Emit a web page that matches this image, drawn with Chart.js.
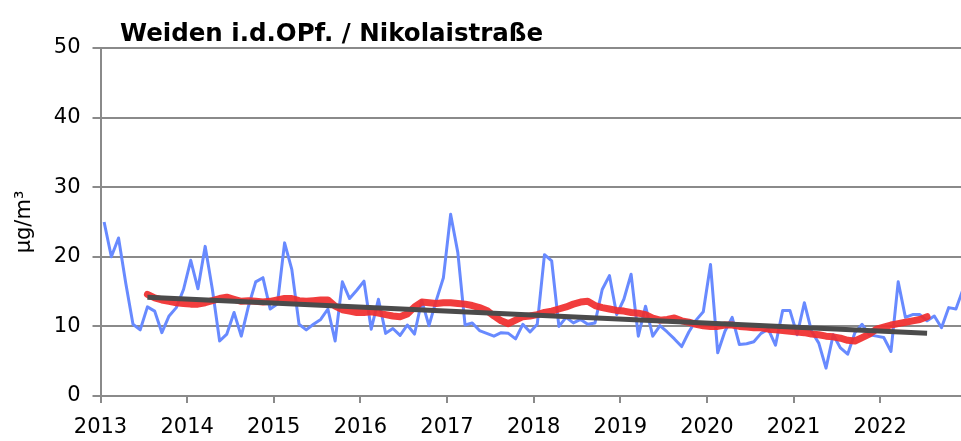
<!DOCTYPE html>
<html><head><meta charset="utf-8">
<script src="https://cdn.jsdelivr.net/npm/chart.js@4.4.1/dist/chart.umd.min.js"></script>
<style>html,body{margin:0;padding:0;background:#fff;}#wrap{width:961px;height:441px;}</style>
</head><body><div id="wrap"><canvas id="c" width="961" height="441"></canvas></div>
<script>
const chartTitle = 'Weiden i.d.OPf. / Nikolaistraße';
const yAxisTitle = 'µg/m³';
const yearLabels = ['2013','2014','2015','2016','2017','2018','2019','2020','2021','2022'];
const yTickValues = [0, 10, 20, 30, 40, 50];

// Monthly means Jan 2013 .. Dec 2022 (µg/m³)
const monthly2013 = [25.0, 20.0, 22.7, 16.2, 10.3, 9.5, 12.8, 12.2, 9.1, 11.5, 12.7, 15.3];
const monthly2014 = [19.5, 15.4, 21.5, 15.3, 7.9, 8.9, 12.0, 8.6, 12.9, 16.4, 17.0, 12.5];
const monthly2015 = [13.2, 22.0, 18.2, 10.3, 9.5, 10.3, 11.0, 12.5, 7.9, 16.4, 14.0, 15.2];
const monthly2016 = [16.5, 9.6, 13.9, 9.0, 9.7, 8.7, 10.2, 8.9, 13.7, 10.1, 13.7, 17.0];
const monthly2017 = [26.1, 20.6, 10.2, 10.5, 9.4, 9.0, 8.6, 9.1, 9.0, 8.2, 10.3, 9.2];
const monthly2018 = [10.3, 20.3, 19.4, 10.0, 11.3, 10.5, 11.0, 10.3, 10.5, 15.3, 17.3, 11.7];
const monthly2019 = [13.9, 17.5, 8.6, 12.9, 8.6, 10.1, 9.2, 8.2, 7.1, 9.2, 10.9, 12.1];
const monthly2020 = [18.9, 6.2, 9.3, 11.3, 7.4, 7.5, 7.8, 9.0, 9.6, 7.3, 12.3, 12.3];
const monthly2021 = [8.8, 13.4, 9.3, 7.6, 4.0, 8.8, 6.9, 6.0, 9.1, 10.3, 8.8, 8.6];
const monthly2022 = [8.4, 6.4, 16.4, 11.3, 11.7, 11.7, 10.8, 11.5, 9.8, 12.7, 12.5, 15.4];

// 12-month moving average, Jul 2013 .. Jul 2022
const movingAvgStartMonth = 6;
const movingAvg = [
  14.6, 14.1, 13.8, 13.6, 13.4, 13.3,
  13.2, 13.2, 13.4, 13.7, 14.0, 14.2, 13.9, 13.6, 13.7, 13.6, 13.5, 13.6,
  13.8, 14.0, 14.0, 13.7, 13.6, 13.7, 13.8, 13.8, 12.9, 12.4, 12.2, 12.0,
  12.0, 12.1, 11.9, 11.7, 11.5, 11.4, 11.8, 12.8, 13.5, 13.4, 13.3, 13.4,
  13.4, 13.3, 13.2, 13.0, 12.7, 12.3, 11.5, 10.8, 10.4, 10.9, 11.4, 11.5,
  11.7, 12.0, 12.2, 12.5, 12.8, 13.2, 13.5, 13.6, 13.0, 12.7, 12.5, 12.3,
  12.2, 12.0, 11.9, 11.7, 11.2, 10.9, 11.0, 11.2, 10.8, 10.6, 10.3, 10.1,
  10.0, 10.0, 10.2, 10.2, 10.0, 9.9, 9.8, 9.8, 9.6, 9.5, 9.4, 9.3,
  9.2, 9.1, 8.9, 8.8, 8.6, 8.5, 8.3, 8.0, 7.9, 8.4, 8.9, 9.6,
  9.9, 10.2, 10.4, 10.6, 10.8, 11.0, 11.4
];

// Linear trend: start / end months and values
const trendMonths = [6, 114];
const trendValues = [14.2, 9.0];

const monthly = [].concat(monthly2013, monthly2014, monthly2015, monthly2016, monthly2017,
  monthly2018, monthly2019, monthly2020, monthly2021, monthly2022);

const FONT = '"DejaVu Sans", sans-serif';
const GRID = 'rgb(138,138,138)';

const titlePlugin = {
  id: 'topTitle',
  afterDraw(chart) {
    const ctx = chart.ctx;
    ctx.save();
    ctx.font = 'bold 24.5px ' + FONT;
    ctx.fillStyle = '#000';
    ctx.textAlign = 'left';
    ctx.textBaseline = 'alphabetic';
    ctx.fillText(chartTitle, 120, 41);
    ctx.restore();
  }
};

new Chart(document.getElementById('c'), {
  type: 'line',
  data: {
    datasets: [
      {
        label: 'Trend',
        data: trendMonths.map((m, k) => ({ x: m + 0.5, y: trendValues[k] })),
        borderColor: '#4b4b4b',
        borderWidth: 5,
        pointRadius: 0,
        tension: 0,
        borderCapStyle: 'butt'
      },
      {
        label: 'Gleitender Mittelwert',
        data: movingAvg.map((v, k) => ({ x: movingAvgStartMonth + k + 0.5, y: v })),
        borderColor: 'rgba(240,45,45,0.92)',
        borderWidth: 7,
        pointRadius: 0,
        tension: 0,
        borderCapStyle: 'round',
        borderJoinStyle: 'round'
      },
      {
        label: 'Monatsmittel',
        data: monthly.map((v, i) => ({ x: i + 0.5, y: v })),
        borderColor: 'rgb(104,138,255)',
        borderWidth: 3,
        pointRadius: 0,
        tension: 0,
        borderJoinStyle: 'round'
      }
    ]
  },
  options: {
    responsive: false,
    devicePixelRatio: 1,
    animation: false,
    layout: { padding: { top: 48, right: 0, bottom: 0, left: 0 } },
    plugins: { legend: { display: false }, tooltip: { enabled: false }, title: { display: false } },
    scales: {
      x: {
        type: 'linear',
        min: 0,
        max: 119.2,
        afterBuildTicks: (s) => { s.ticks = yearLabels.map((_, k) => ({ value: k * 12 })); },
        afterFit: (s) => { s.height = 45; },
        ticks: {
          autoSkip: false,
          maxRotation: 0,
          padding: 12,
          color: '#000',
          font: { family: FONT, size: 21 },
          callback: (v) => yearLabels[Math.round(v / 12)]
        },
        grid: { drawOnChartArea: false, drawTicks: true, tickLength: 7, color: GRID, lineWidth: 2 },
        border: { display: true, color: GRID, width: 2 }
      },
      y: {
        min: 0,
        max: 50,
        afterBuildTicks: (s) => { s.ticks = yTickValues.map(v => ({ value: v })); },
        afterFit: (s) => { s.width = 100.5; },
        ticks: {
          padding: 12,
          color: '#000',
          font: { family: FONT, size: 21 }
        },
        grid: { drawTicks: true, tickLength: 8, color: GRID, lineWidth: 2 },
        border: { display: true, color: GRID, width: 2 },
        title: {
          display: true,
          text: yAxisTitle,
          color: '#000',
          font: { family: FONT, size: 21 },
          padding: { top: 12, bottom: 0 }
        }
      }
    }
  },
  plugins: [titlePlugin]
});
</script>
</body></html>
